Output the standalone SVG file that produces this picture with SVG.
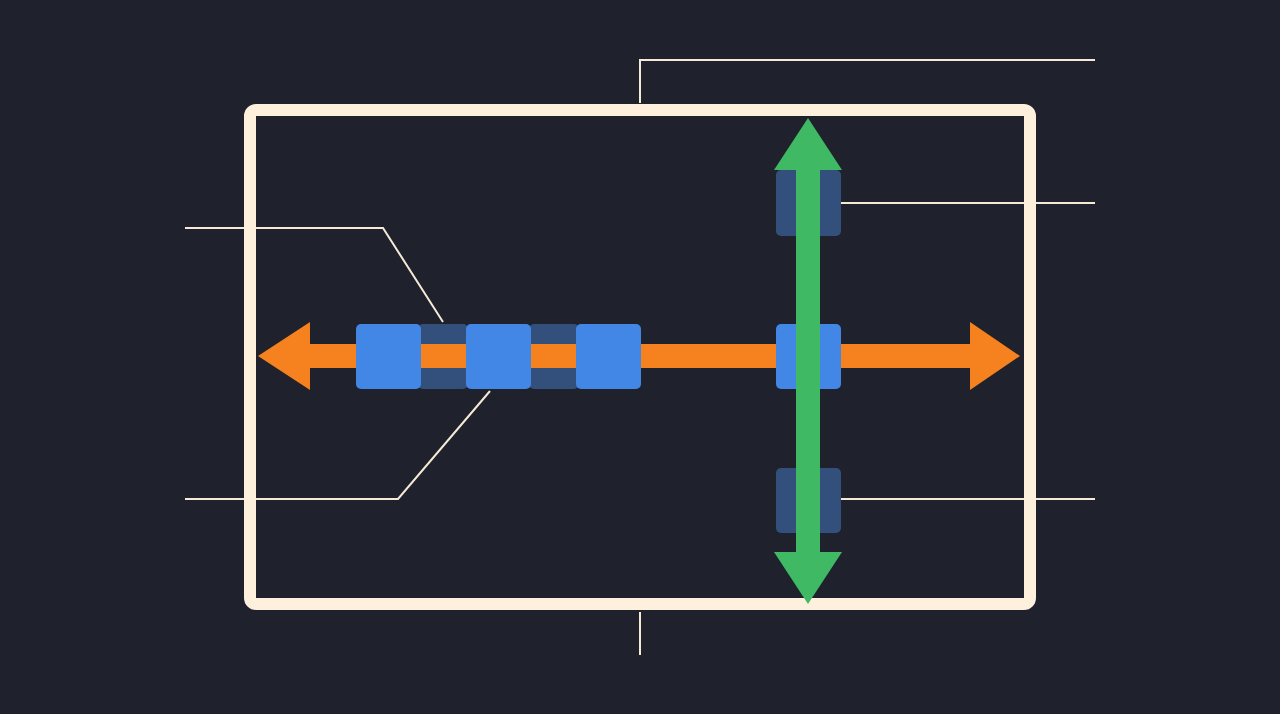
<svg xmlns="http://www.w3.org/2000/svg" width="1280" height="714" viewBox="0 0 1280 714">
<style>
.lead{fill:none;stroke:#f6ead6;stroke-width:2}
.sq{fill:#4287e6}
.dim{fill:#3f6fb0;opacity:0.6}
</style>
<rect width="1280" height="714" fill="#1f222c"/>
<g id="connectors">
<polyline class="lead" points="640,103 640,60 1095,60"/>
<polyline class="lead" points="640,612 640,655"/>
<polyline class="lead" points="841,203 1095,203"/>
<polyline class="lead" points="841,499 1095,499"/>
<polyline class="lead" points="185,228 383,228 443,322"/>
<polyline class="lead" points="185,499 398,499 490,391"/>
</g>
<g id="frame"><rect x="250" y="110" width="780" height="494" rx="6" fill="none" stroke="#fdf0dc" stroke-width="12"/></g>
<g id="dim-squares">
<rect class="dim" x="418" y="324" width="50" height="65" rx="5"/>
<rect class="dim" x="529" y="324" width="50" height="65" rx="5"/>
<rect class="dim" x="776" y="170" width="65" height="66" rx="5"/>
<rect class="dim" x="776" y="468" width="65" height="65" rx="5"/>
</g>
<g id="orange-arrow" fill="#f5811f">
<rect x="300" y="344" width="680" height="24"/>
<polygon points="258,356 310,322 310,390"/>
<polygon points="1020,356 970,322 970,390"/>
</g>
<g id="squares">
<rect class="sq" x="356" y="324" width="65" height="65" rx="5"/>
<rect class="sq" x="466" y="324" width="65" height="65" rx="5"/>
<rect class="sq" x="576" y="324" width="65" height="65" rx="5"/>
<rect class="sq" x="776" y="324" width="65" height="65" rx="5"/>
</g>
<g id="green-arrow" fill="#3fb964">
<rect x="796" y="160" width="24" height="400"/>
<polygon points="808,118 774,170 842,170"/>
<polygon points="808,604 774,552 842,552"/>
</g>
</svg>
